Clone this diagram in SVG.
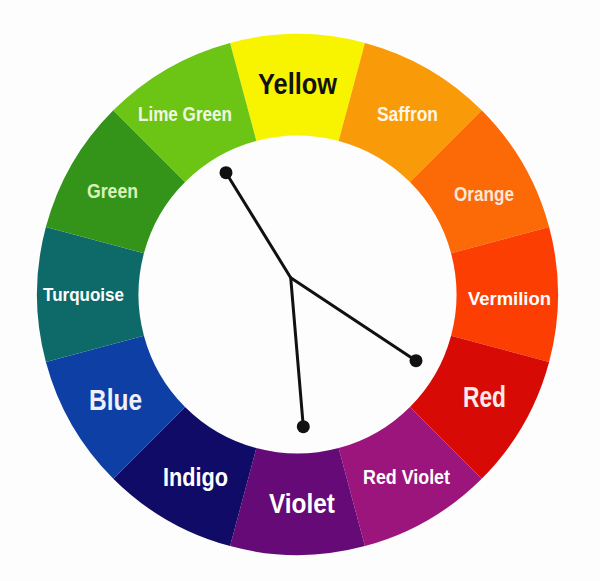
<svg xmlns="http://www.w3.org/2000/svg" width="600" height="581" viewBox="0 0 600 581">
<style>
.lbl{font-family:"Liberation Sans",Arial,sans-serif;font-weight:bold;fill:#ffffff;text-anchor:middle}
.conn{stroke:#111111;stroke-width:3;fill:none;stroke-linecap:round;stroke-linejoin:round}
.dot{fill:#111111}
</style>
<rect width="600" height="581" fill="#fdfdfd"/>
<g id="yellow"><path d="M230.08,42.88 A260.5,260.5 0 0 1 364.92,42.88 L338.65,140.92 A159,159 0 0 0 256.35,140.92 Z" fill="#f8f400"/>
<text class="lbl" x="297.5" y="94" font-size="29" textLength="79" lengthAdjust="spacingAndGlyphs" style="fill:#111111">Yellow</text></g>
<g id="saffron"><path d="M364.92,42.88 A260.5,260.5 0 0 1 481.70,110.30 L409.93,182.07 A159,159 0 0 0 338.65,140.92 Z" fill="#f99a08"/>
<text class="lbl" x="407.5" y="121" font-size="19.5" textLength="61" lengthAdjust="spacingAndGlyphs" style="fill:#fff6e8">Saffron</text></g>
<g id="orange"><path d="M481.70,110.30 A260.5,260.5 0 0 1 549.12,227.08 L451.08,253.35 A159,159 0 0 0 409.93,182.07 Z" fill="#fc6a08"/>
<text class="lbl" x="484" y="201" font-size="19.5" textLength="60" lengthAdjust="spacingAndGlyphs" style="fill:#fbe8d8">Orange</text></g>
<g id="vermilion"><path d="M549.12,227.08 A260.5,260.5 0 0 1 549.12,361.92 L451.08,335.65 A159,159 0 0 0 451.08,253.35 Z" fill="#fd3e02"/>
<text class="lbl" x="509.5" y="305" font-size="18" textLength="83" lengthAdjust="spacingAndGlyphs">Vermilion</text></g>
<g id="red"><path d="M549.12,361.92 A260.5,260.5 0 0 1 481.70,478.70 L409.93,406.93 A159,159 0 0 0 451.08,335.65 Z" fill="#d80a05"/>
<text class="lbl" x="484.5" y="407" font-size="30" textLength="43" lengthAdjust="spacingAndGlyphs" style="fill:#fbeaea">Red</text></g>
<g id="red-violet"><path d="M481.70,478.70 A260.5,260.5 0 0 1 364.92,546.12 L338.65,448.08 A159,159 0 0 0 409.93,406.93 Z" fill="#9c157c"/>
<text class="lbl" x="406.5" y="484" font-size="19.5" textLength="87" lengthAdjust="spacingAndGlyphs">Red Violet</text></g>
<g id="violet"><path d="M364.92,546.12 A260.5,260.5 0 0 1 230.08,546.12 L256.35,448.08 A159,159 0 0 0 338.65,448.08 Z" fill="#650a76"/>
<text class="lbl" x="302" y="513" font-size="28" textLength="66" lengthAdjust="spacingAndGlyphs">Violet</text></g>
<g id="indigo"><path d="M230.08,546.12 A260.5,260.5 0 0 1 113.30,478.70 L185.07,406.93 A159,159 0 0 0 256.35,448.08 Z" fill="#0f0b66"/>
<text class="lbl" x="195.5" y="486" font-size="25" textLength="65" lengthAdjust="spacingAndGlyphs">Indigo</text></g>
<g id="blue"><path d="M113.30,478.70 A260.5,260.5 0 0 1 45.88,361.92 L143.92,335.65 A159,159 0 0 0 185.07,406.93 Z" fill="#0d3fa5"/>
<text class="lbl" x="115.5" y="410" font-size="30" textLength="53" lengthAdjust="spacingAndGlyphs" style="fill:#eef0fa">Blue</text></g>
<g id="turquoise"><path d="M45.88,361.92 A260.5,260.5 0 0 1 45.88,227.08 L143.92,253.35 A159,159 0 0 0 143.92,335.65 Z" fill="#0e6a68"/>
<text class="lbl" x="83.5" y="301" font-size="18" textLength="81" lengthAdjust="spacingAndGlyphs">Turquoise</text></g>
<g id="green"><path d="M45.88,227.08 A260.5,260.5 0 0 1 113.30,110.30 L185.07,182.07 A159,159 0 0 0 143.92,253.35 Z" fill="#34941a"/>
<text class="lbl" x="112.5" y="198" font-size="21" textLength="51" lengthAdjust="spacingAndGlyphs" style="fill:#d9f2b8">Green</text></g>
<g id="lime-green"><path d="M113.30,110.30 A260.5,260.5 0 0 1 230.08,42.88 L256.35,140.92 A159,159 0 0 0 185.07,182.07 Z" fill="#6cc514"/>
<text class="lbl" x="185" y="121" font-size="19.5" textLength="94" lengthAdjust="spacingAndGlyphs" style="fill:#f0f8e4">Lime Green</text></g>
<g id="connectors">
<polyline class="conn" points="226,172.7 290.7,277.7 416,360.7"/>
<line class="conn" x1="290.7" y1="277.7" x2="303.3" y2="426.7"/>
<circle class="dot" cx="226" cy="172.7" r="6.5"/>
<circle class="dot" cx="416" cy="360.7" r="6.5"/>
<circle class="dot" cx="303.3" cy="426.7" r="6.5"/>
</g>
</svg>
